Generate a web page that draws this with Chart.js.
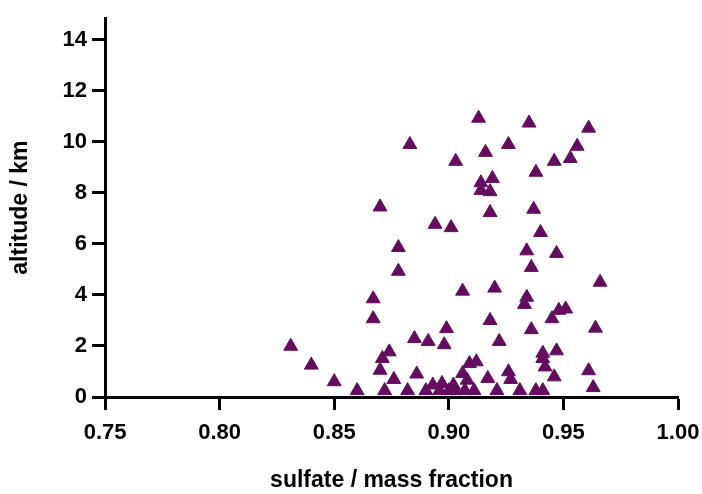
<!DOCTYPE html>
<html>
<head>
<meta charset="utf-8">
<script src="https://cdn.jsdelivr.net/npm/chart.js@4"></script>
<style>
  html, body { margin: 0; padding: 0; background: #fff; }
  #wrap { width: 702px; height: 494px; }
</style>
</head>
<body>
<div id="wrap"><canvas id="chart"></canvas></div>
<script>
// sulfate mass fraction vs altitude
const sulfate = [
  0.913, 0.935, 0.961, 0.883, 0.926, 0.916, 0.956, 0.953, 0.946, 0.903,
  0.938, 0.919, 0.914, 0.914, 0.918, 0.870, 0.937, 0.918, 0.894, 0.901,
  0.940, 0.878, 0.934, 0.947, 0.936, 0.878, 0.966, 0.920, 0.906, 0.934,
  0.867, 0.933, 0.951, 0.948, 0.867, 0.945, 0.918, 0.964, 0.899, 0.936,
  0.885, 0.922, 0.891, 0.898, 0.831, 0.874, 0.947, 0.941, 0.941, 0.871,
  0.912, 0.909, 0.840, 0.942, 0.870, 0.926, 0.961, 0.906, 0.886, 0.946,
  0.917, 0.927, 0.876, 0.908, 0.850, 0.897, 0.902, 0.963, 0.893,
  0.860, 0.872, 0.882, 0.890, 0.896, 0.900, 0.903, 0.907, 0.911, 0.921,
  0.931, 0.938, 0.941
];
const altitude = [
  10.93, 10.74, 10.54, 9.90, 9.90, 9.59, 9.83, 9.35, 9.24, 9.24,
  8.81, 8.57, 8.40, 8.10, 8.05, 7.45, 7.36, 7.23, 6.77, 6.64,
  6.45, 5.86, 5.73, 5.63, 5.08, 4.93, 4.50, 4.27, 4.15, 3.91,
  3.85, 3.63, 3.45, 3.40, 3.07, 3.07, 3.00, 2.70, 2.68, 2.64,
  2.29, 2.18, 2.18, 2.05, 1.99, 1.77, 1.81, 1.72, 1.51, 1.51,
  1.38, 1.31, 1.25, 1.18, 1.05, 0.99, 1.03, 0.92, 0.90, 0.79,
  0.73, 0.69, 0.69, 0.66, 0.60, 0.53, 0.47, 0.37, 0.47,
  0.25, 0.25, 0.25, 0.25, 0.25, 0.25, 0.25, 0.25, 0.25, 0.25,
  0.25, 0.25, 0.25
];
const xTicks = [0.75, 0.80, 0.85, 0.90, 0.95, 1.00];
const yTicks = [0, 2, 4, 6, 8, 10, 12, 14];

const purple = '#640d5f';
const points = sulfate.map((x, i) => ({ x: x, y: altitude[i] }));

new Chart(document.getElementById('chart'), {
  type: 'scatter',
  data: {
    datasets: [{
      data: points,
      pointStyle: 'triangle',
      pointRadius: 8,
      pointBackgroundColor: purple,
      pointBorderColor: purple,
      pointBorderWidth: 1
    }]
  },
  options: {
    responsive: true,
    maintainAspectRatio: false,
    animation: false,
    layout: { padding: { left: 7, right: 0, top: 0, bottom: 0 } },
    plugins: { legend: { display: false }, tooltip: { enabled: false } },
    scales: {
      x: {
        type: 'linear',
        min: 0.75,
        max: 1.00,
        afterBuildTicks: s => { s.ticks = xTicks.map(v => ({ value: v })); },
        // the last label only needs room for half its width
        afterFit: s => { s.paddingRight = 24; },
        ticks: {
          color: '#000',
          padding: 10,
          font: { family: 'Liberation Sans', size: 22, weight: 'bold' },
          callback: v => v.toFixed(2)
        },
        grid: { drawOnChartArea: false, drawTicks: true, tickLength: 13, tickWidth: 3, tickColor: '#000' },
        border: { display: true, color: '#000', width: 3 },
        title: {
          display: true,
          text: 'sulfate / mass fraction',
          color: '#000',
          font: { family: 'Liberation Sans', size: 23, weight: 'bold' },
          padding: { top: 10, bottom: 0 }
        }
      },
      y: {
        type: 'linear',
        min: 0,
        max: 14.85,
        afterBuildTicks: s => { s.ticks = yTicks.map(v => ({ value: v })); },
        ticks: {
          color: '#000',
          padding: 5,
          font: { family: 'Liberation Sans', size: 22, weight: 'bold' }
        },
        grid: { drawOnChartArea: false, drawTicks: true, tickLength: 13, tickWidth: 3, tickColor: '#000' },
        border: { display: true, color: '#000', width: 3 },
        title: {
          display: true,
          text: 'altitude / km',
          color: '#000',
          font: { family: 'Liberation Sans', size: 23, weight: 'bold' },
          padding: { top: 0, bottom: 23 }
        }
      }
    }
  }
});
</script>
</body>
</html>
